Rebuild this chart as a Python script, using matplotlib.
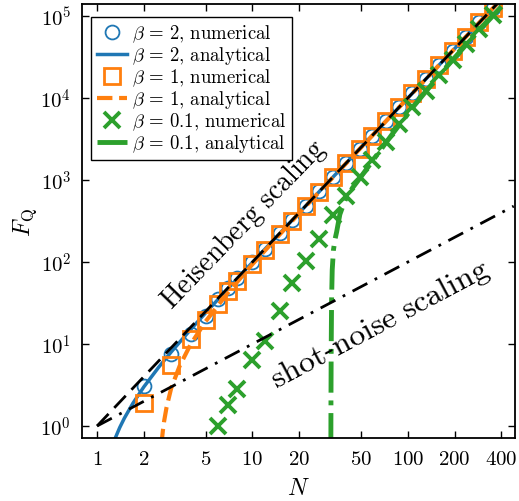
import numpy as np
import matplotlib
matplotlib.use("Agg")
import matplotlib.pyplot as plt
from matplotlib.ticker import FixedLocator, FixedFormatter, NullLocator

plt.rcParams['mathtext.fontset'] = 'cm'
plt.rcParams['font.family'] = 'serif'

# numerical points (shared N grid)
N_num = [2, 3, 4, 5, 6, 7, 8, 10, 12, 15, 18, 22, 27, 33, 40, 49, 59, 72, 88,
         107, 131, 159, 194, 237, 289, 352]
F_b2 = [3.05, 7.6, 13.2, 22, 35, 48, 63, 99, 143, 224, 323, 483, 728, 1088,
        1599, 2400, 3480, 5183, 7743, 11448, 17160, 25280, 37635, 56168, 83520, 123903]
F_b1 = [1.9, 5.5, 11.5, 19.8, 31, 44, 59, 95, 139, 220, 319, 479, 724, 1084,
        1595, 2396, 3476, 5179, 7739, 11444, 17156, 25276, 37631, 56164, 83516, 123899]

N_g = [6, 7, 8, 10, 12, 15, 18, 22, 27, 33, 40, 49, 59, 72, 88, 107, 131, 159,
       194, 237, 289, 352]
F_g = [1.0, 1.8, 2.8, 6.3, 11, 25, 56, 103, 190, 370, 640, 1080, 1740, 2900,
       4800, 7700, 12200, 19000, 29400, 45000, 68500, 104000]

# analytical curves
N_a2 = [1.25, 1.3, 1.4, 1.5, 1.7, 2, 2.5, 3, 4, 5, 7, 10, 20, 50, 100, 200, 400, 500]
F_a2 = [0.56, 0.69, 0.96, 1.25, 1.89, 3.0, 5.25, 8, 15, 24, 48, 99, 399, 2499,
        9999, 39999, 159999, 249999]
N_a1 = [2.6, 2.62, 2.65, 2.7, 2.8, 3, 3.4, 4, 5, 7, 10, 20, 50, 100, 200, 400, 500]
F_a1 = [0.6, 0.71, 0.87, 1.14, 1.69, 2.9, 5.4, 9.9, 18.9, 42.9, 94, 394, 2494,
        9994, 39994, 159994, 249994]
N_a01 = [31.95, 32.0, 32.1, 32.3, 32.6, 33.2, 34, 34.8, 36.5, 39.3, 44, 50, 60,
         80, 110, 160, 250, 400, 500]
F_a01 = [0.6, 2, 8, 35, 80, 140, 190, 232, 380, 560, 800, 1100, 1770, 3700,
         8100, 19200, 50000, 130000, 205000]

# scaling guides
N_heis = [1, 500]
F_heis = [1, 250000]
N_shot = [1, 480]
F_shot = [1, 480]

x_ticks = [1, 2, 5, 10, 20, 50, 100, 200, 400]
y_ticks = [1, 10, 100, 1000, 10000, 100000]
y_labels = [r'$10^{0}$', r'$10^{1}$', r'$10^{2}$', r'$10^{3}$', r'$10^{4}$', r'$10^{5}$']

c_blue, c_orange, c_green = '#1f77b4', '#ff7f0e', '#2ca02c'

fig = plt.figure(figsize=(5.19, 5.02), dpi=100)
ax = fig.add_axes([0.158, 0.1255, 0.834, 0.8645])

ax.plot(N_heis, F_heis, color='k', ls=(0, (6, 3)), lw=2, zorder=5)
ax.plot(N_shot, F_shot, color='k', ls=(0, (6, 3, 1, 3)), lw=2, zorder=5)

ax.plot(N_num, F_b2, 'o', ms=10, mfc='none', mec=c_blue, mew=1.3,
        label=r'$\beta\,=\,2,\,\mathrm{numerical}$')
ax.plot(N_a2, F_a2, '-', color=c_blue, lw=2.5, label=r'$\beta\,=\,2,\,\mathrm{analytical}$')
ax.plot(N_num, F_b1, 's', ms=12, mfc='none', mec=c_orange, mew=2,
        label=r'$\beta\,=\,1,\,\mathrm{numerical}$')
ax.plot(N_a1, F_a1, '--', color=c_orange, lw=3, label=r'$\beta\,=\,1,\,\mathrm{analytical}$')
ax.plot(N_g, F_g, 'x', ms=11, mec=c_green, mew=2.8,
        label=r'$\beta\,=\,0.1,\,\mathrm{numerical}$')
ax.plot(N_a01, F_a01, '-.', color=c_green, lw=3.5, label=r'$\beta\,=\,0.1,\,\mathrm{analytical}$')

ax.set_xscale('log')
ax.set_yscale('log')
ax.set_xlim(0.8, 488)
ax.set_ylim(0.714, 1.4e5)

ax.xaxis.set_major_locator(FixedLocator(x_ticks))
ax.xaxis.set_major_formatter(FixedFormatter([r'$%d$' % v for v in x_ticks]))
ax.xaxis.set_minor_locator(NullLocator())
ax.yaxis.set_major_locator(FixedLocator(y_ticks))
ax.yaxis.set_major_formatter(FixedFormatter(y_labels))
ax.yaxis.set_minor_locator(NullLocator())
ax.tick_params(direction='in', top=True, right=True, length=5, width=1,
               labelsize=15, pad=8)
for s in ax.spines.values():
    s.set_linewidth(1.3)

ax.set_xlabel(r'$N$', fontsize=17, labelpad=6)
ax.set_ylabel(r'$F_{\mathrm{Q}}$', fontsize=17, labelpad=1)

ax.text(8.7, 290, r'$\mathrm{Heisenberg\ scaling}$', fontsize=20, rotation=46,
        ha='center', va='center', rotation_mode='anchor')
ax.text(66, 17.5, r'$\mathrm{shot}$-$\mathrm{noise\ scaling}$', fontsize=23, rotation=28,
        ha='center', va='center', rotation_mode='anchor')

leg = ax.legend(loc='upper left', bbox_to_anchor=(0.021, 0.970), fontsize=13.5,
                frameon=True, fancybox=False, framealpha=1, edgecolor='k',
                labelspacing=0.01, handletextpad=0.3, borderpad=0.3,
                borderaxespad=0.0, handlelength=1.6)
leg.get_frame().set_linewidth(1.0)

fig.savefig('out.png', dpi=100)
